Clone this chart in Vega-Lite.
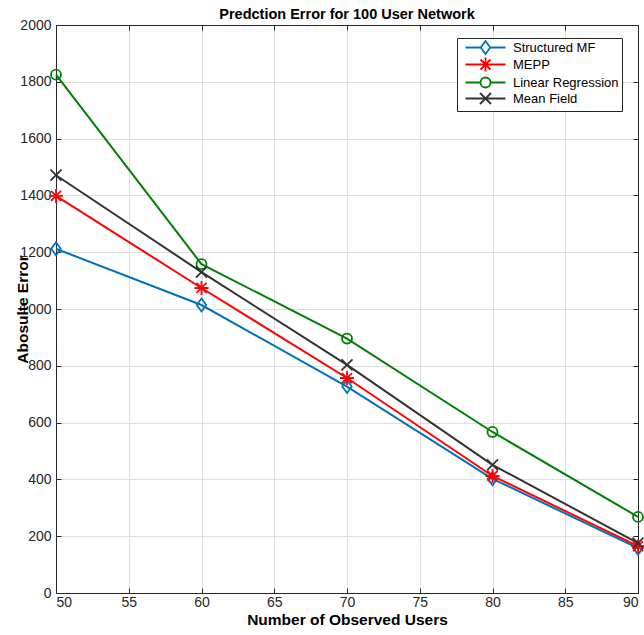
{
  "$schema": "https://vega.github.io/schema/vega-lite/v6.json",
  "autosize": "none",
  "width": 582,
  "height": 568,
  "padding": {"left": 56, "top": 25, "right": 6, "bottom": 42},
  "background": "white",
  "title": {"text": "Predction Error for 100 User Network", "fontSize": 14.5, "font": "Liberation Sans", "fontWeight": "bold", "color": "#000000", "offset": -4},
  "config": {
    "view": {"stroke": null},
    "axis": {
      "labelFont": "Liberation Sans", "labelFontSize": 14, "labelColor": "#262626",
      "titleFont": "Liberation Sans", "titleFontSize": 15.5, "titleFontWeight": "bold", "titleColor": "#000000",
      "domainColor": "#262626", "domainWidth": 1, "tickColor": "#262626", "tickWidth": 1,
      "gridColor": "#dedede", "gridWidth": 1, "tickSize": -5
    },
    "legend": {
      "labelFont": "Liberation Sans", "labelFontSize": 13, "labelColor": "#000000",
      "symbolSize": 100, "labelOffset": 36, "padding": 3, "symbolOffset": 4, "rowPadding": -7.4,
      "strokeColor": "#262626", "fillColor": "white", "cornerRadius": 0
    }
  },
  "data": {"values": [
    {"series": "Structured MF", "users": 50, "error": 1212},
    {"series": "Structured MF", "users": 60, "error": 1014},
    {"series": "Structured MF", "users": 70, "error": 727},
    {"series": "Structured MF", "users": 80, "error": 402},
    {"series": "Structured MF", "users": 90, "error": 158},
    {"series": "MEPP", "users": 50, "error": 1398},
    {"series": "MEPP", "users": 60, "error": 1074},
    {"series": "MEPP", "users": 70, "error": 757},
    {"series": "MEPP", "users": 80, "error": 412},
    {"series": "MEPP", "users": 90, "error": 165},
    {"series": "Linear Regression", "users": 50, "error": 1825},
    {"series": "Linear Regression", "users": 60, "error": 1158},
    {"series": "Linear Regression", "users": 70, "error": 896},
    {"series": "Linear Regression", "users": 80, "error": 567},
    {"series": "Linear Regression", "users": 90, "error": 268},
    {"series": "Mean Field", "users": 50, "error": 1471},
    {"series": "Mean Field", "users": 60, "error": 1130},
    {"series": "Mean Field", "users": 70, "error": 803},
    {"series": "Mean Field", "users": 80, "error": 451},
    {"series": "Mean Field", "users": 90, "error": 176}
  ]},
  "layer": [
    {
      "mark": {"type": "line", "strokeWidth": 2},
      "encoding": {
        "x": {"field": "users", "type": "quantitative",
          "scale": {"domain": [50, 90], "nice": false, "zero": false},
          "axis": {"orient": "bottom", "values": [50, 55, 60, 65, 70, 75, 80, 85, 90], "title": "Number of Observed Users", "labelPadding": 7, "titlePadding": 3, "grid": true}},
        "y": {"field": "error", "type": "quantitative",
          "scale": {"domain": [0, 2000], "nice": false},
          "axis": {"orient": "left", "format": "d", "values": [0, 200, 400, 600, 800, 1000, 1200, 1400, 1600, 1800, 2000], "title": "Abosulte Error", "labelPadding": 10, "titleX": -34, "titleBaseline": "middle", "grid": true}},
        "color": {"field": "series", "type": "nominal",
          "scale": {"domain": ["Structured MF", "MEPP", "Linear Regression", "Mean Field"], "range": ["#0072BD", "#FF0000", "#008000", "#333333"]},
          "legend": {"orient": "none", "legendX": 401, "legendY": 13, "title": null,
            "encode": {"symbols": {"update": {
              "shape": {"signal": "datum.value === 'Structured MF' ? 'M-1,0H2.05M3.95,0H7M3,-1.3L3.95,0L3,1.3L2.05,0Z' : datum.value === 'MEPP' ? 'M-1,0H7M3,-1.4V1.4M2,-1L4,1M2,1L4,-1' : datum.value === 'Linear Regression' ? 'M-1,0H2M4,0H7M2,0A1,1,0,1,1,4,0A1,1,0,1,1,2,0Z' : 'M-1,0H7M1.9,-1.1L4.1,1.1M1.9,1.1L4.1,-1.1'"},
              "fill": {"value": "transparent"},
              "strokeWidth": {"value": 1.8},
              "opacity": {"value": 1}
            }}}}},
        "detail": {"field": "series"}
      }
    },
    {
      "transform": [{"filter": "datum.series === 'Structured MF'"}],
      "mark": {"type": "point", "filled": false, "strokeWidth": 1.8, "size": 100, "opacity": 1, "shape": "M0,-1.3L0.95,0L0,1.3L-0.95,0Z"},
      "encoding": {
        "x": {"field": "users", "type": "quantitative",
          "axis": {"orient": "top", "values": [50, 55, 60, 65, 70, 75, 80, 85, 90], "labels": false, "title": null, "grid": false}},
        "y": {"field": "error", "type": "quantitative",
          "axis": {"orient": "right", "values": [0, 200, 400, 600, 800, 1000, 1200, 1400, 1600, 1800, 2000], "labels": false, "title": null, "grid": false}},
        "color": {"field": "series", "type": "nominal", "legend": null}
      }
    },
    {
      "transform": [{"filter": "datum.series === 'MEPP'"}],
      "mark": {"type": "point", "filled": false, "strokeWidth": 1.8, "size": 100, "opacity": 1, "shape": "M-1.4,0H1.4M0,-1.4V1.4M-1,-1L1,1M-1,1L1,-1"},
      "encoding": {
        "x": {"field": "users", "type": "quantitative", "axis": null},
        "y": {"field": "error", "type": "quantitative", "axis": null},
        "color": {"field": "series", "type": "nominal", "legend": null}
      }
    },
    {
      "transform": [{"filter": "datum.series === 'Linear Regression'"}],
      "mark": {"type": "point", "filled": false, "strokeWidth": 1.8, "size": 100, "opacity": 1, "shape": "M-1,0A1,1,0,1,1,1,0A1,1,0,1,1,-1,0Z"},
      "encoding": {
        "x": {"field": "users", "type": "quantitative", "axis": null},
        "y": {"field": "error", "type": "quantitative", "axis": null},
        "color": {"field": "series", "type": "nominal", "legend": null}
      }
    },
    {
      "transform": [{"filter": "datum.series === 'Mean Field'"}],
      "mark": {"type": "point", "filled": false, "strokeWidth": 1.8, "size": 100, "opacity": 1, "shape": "M-1.1,-1.1L1.1,1.1M-1.1,1.1L1.1,-1.1"},
      "encoding": {
        "x": {"field": "users", "type": "quantitative", "axis": null},
        "y": {"field": "error", "type": "quantitative", "axis": null},
        "color": {"field": "series", "type": "nominal", "legend": null}
      }
    }
  ],
  "resolve": {"axis": {"x": "independent", "y": "independent"}}
}
